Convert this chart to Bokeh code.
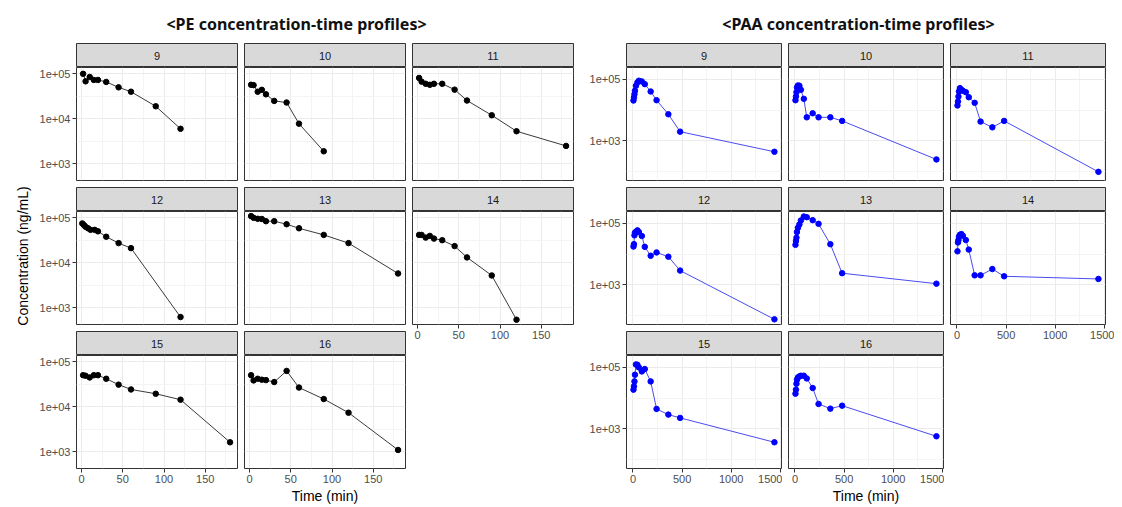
import math
from bokeh.plotting import figure
from bokeh.models import Range1d, FixedTicker, LinearAxis, LogAxis, Grid, Spacer, ColumnDataSource
from bokeh.layouts import row, column
from bokeh.embed import file_html
from bokeh.resources import INLINE
from bokeh.core.properties import value

# ---------------- data ----------------
panel_layout = [["9", "10", "11"], ["12", "13", "14"], ["15", "16", None]]

# PE (left grid) : time (min) and concentration (ng/mL)
pe_t_9 = [2, 5, 10, 15, 20, 30, 45, 60, 90, 120]
pe_c_9 = [100000, 68000, 85000, 73000, 73000, 66000, 50000, 40000, 19000, 6000]
pe_t_10 = [2, 5, 10, 15, 20, 30, 45, 60, 90]
pe_c_10 = [57000, 56000, 40000, 44000, 35000, 25000, 23000, 7800, 1900]
pe_t_11 = [2, 5, 10, 15, 20, 30, 45, 60, 90, 120, 180]
pe_c_11 = [81000, 67000, 60000, 57000, 60000, 60000, 44500, 25500, 12000, 5300, 2500]
pe_t_12 = [1, 3, 5, 8, 11, 16, 20, 30, 45, 60, 120]
pe_c_12 = [75000, 69000, 63000, 58500, 54000, 54000, 50000, 38000, 27400, 21200, 625]
pe_t_13 = [2, 5, 10, 15, 20, 30, 45, 60, 90, 120, 180]
pe_c_13 = [109000, 100000, 95000, 94000, 84000, 84000, 72000, 58500, 41700, 27400, 5800]
pe_t_14 = [2, 5, 10, 15, 20, 30, 45, 60, 90, 120]
pe_c_14 = [41700, 41700, 36300, 39600, 34500, 31800, 23500, 13200, 5240, 545]
pe_t_15 = [2, 5, 10, 15, 20, 30, 45, 60, 90, 120, 180]
pe_c_15 = [50400, 48900, 44900, 50400, 50400, 42000, 31100, 24300, 19500, 14400, 1630]
pe_t_16 = [2, 5, 10, 15, 20, 30, 45, 60, 90, 120, 180]
pe_c_16 = [50400, 38600, 42000, 40000, 39200, 35500, 62800, 26800, 14900, 7400, 1100]

# PAA (right grid)
paa_t = [5, 10, 15, 20, 30, 45, 60, 90, 120, 180, 240, 360, 480, 1440]
paa_c_9 = [20500, 25700, 33000, 42600, 62000, 79700, 90600, 86000, 70200, 40400, 21000, 7300, 1970, 435]
paa_c_10 = [21000, 27700, 38400, 54700, 63500, 62000, 45900, 23300, 5800, 7850, 5800, 5800, 4430, 244]
paa_c_11 = [14100, 19000, 27700, 40400, 51900, 45900, 42600, 38400, 26300, 17200, 4200, 2730, 4430, 96]
paa_c_12 = [17600, 21000, 41000, 49800, 53600, 59400, 52500, 39000, 17200, 8800, 11300, 8200, 2890, 74]
paa_c_13 = [20000, 26800, 34300, 52400, 72100, 92900, 125000, 168000, 160000, 128000, 97000, 21000, 2370, 1080]
paa_c_14 = [12300, 24000, 28700, 36700, 42600, 44900, 39500, 28700, 14000, 2020, 2020, 3240, 1880, 1540]
paa_c_15 = [18800, 24100, 35000, 57800, 125000, 122000, 100000, 74100, 88700, 35000, 4420, 2880, 2250, 360]
paa_c_16 = [13900, 18800, 29400, 39700, 47200, 50900, 53700, 53700, 43800, 21300, 6420, 4520, 5650, 565]

# axis ticks / labels
pe_x_ticks = [0, 50, 100, 150]
pe_x_minor = [25, 75, 125, 175]
pe_y_ticks = [1e3, 1e4, 1e5]
pe_y_minor = [10 ** 3.5, 10 ** 4.5]
pe_y_labels = {1000: "1e+03", 10000: "1e+04", 100000: "1e+05"}
paa_x_ticks = [0, 500, 1000, 1500]
paa_x_minor = [250, 750, 1250]
paa_y_ticks = [1e3, 1e5]
paa_y_minor = [1e2, 1e4]
paa_y_labels = {1000: "1e+03", 100000: "1e+05"}

titles = ["<PE concentration-time profiles>", "<PAA concentration-time profiles>"]
y_title = "Concentration (ng/mL)"
x_title = "Time (min)"

# ---------------- build ----------------
pe_data = {"9": (pe_t_9, pe_c_9), "10": (pe_t_10, pe_c_10), "11": (pe_t_11, pe_c_11),
           "12": (pe_t_12, pe_c_12), "13": (pe_t_13, pe_c_13), "14": (pe_t_14, pe_c_14),
           "15": (pe_t_15, pe_c_15), "16": (pe_t_16, pe_c_16)}
paa_data = {"9": (paa_t, paa_c_9), "10": (paa_t, paa_c_10), "11": (paa_t, paa_c_11),
            "12": (paa_t, paa_c_12), "13": (paa_t, paa_c_13), "14": (paa_t, paa_c_14),
            "15": (paa_t, paa_c_15), "16": (paa_t, paa_c_16)}

CFG = {
    "pe": dict(fw=161, xr=(-6, 189), yr=(10 ** 2.63, 10 ** 5.14), xt=pe_x_ticks, xm=pe_x_minor,
               yt=pe_y_ticks, ym=pe_y_minor, yl=pe_y_labels, line="#3a3a3a", pt="#000000",
               data=pe_data, L=[44, 1, 1], R=[1, 1, 1]),
    "paa": dict(fw=155, xr=(-66, 1512), yr=(10 ** 1.70, 10 ** 5.39), xt=paa_x_ticks, xm=paa_x_minor,
                yt=paa_y_ticks, ym=paa_y_minor, yl=paa_y_labels, line="#4b4bf0", pt="#0000ff",
                data=paa_data, L=[52, 1, 1], R=[1, 1, 9]),
}
FH = 113
TICK_FONT = "Liberation Sans"


def style_axis(ax):
    ax.axis_line_color = None
    ax.major_tick_line_color = "#333333"
    ax.major_tick_in = 0
    ax.major_tick_out = 4
    ax.minor_tick_line_color = None
    ax.major_label_text_font = TICK_FONT
    ax.major_label_text_font_size = "11px"
    ax.major_label_text_color = "#4d4d4d"
    ax.major_label_standoff = 2


def make_panel(side, subj, L, R, B, yaxis, xaxis, xlabel):
    c = CFG[side]
    t, conc = c["data"][subj]
    p = figure(width=L + c["fw"] + R, height=FH + B, x_range=Range1d(*c["xr"]),
               y_range=Range1d(*c["yr"]), y_axis_type="log", x_axis_location=None,
               y_axis_location=None, toolbar_location=None, output_backend="svg", min_border=0)
    p.min_border_left = L
    p.min_border_right = R
    p.min_border_top = 0
    p.min_border_bottom = B
    p.center = [r for r in p.center if not isinstance(r, Grid)]
    p.add_layout(Grid(dimension=0, ticker=FixedTicker(ticks=c["xt"], minor_ticks=c["xm"]),
                      grid_line_color="#ebebeb", minor_grid_line_color="#f4f4f4"))
    p.add_layout(Grid(dimension=1, ticker=FixedTicker(ticks=c["yt"], minor_ticks=c["ym"]),
                      grid_line_color="#ebebeb", minor_grid_line_color="#f4f4f4"))
    p.outline_line_color = "#333333"
    p.outline_line_width = 1
    src = ColumnDataSource(dict(t=t, c=conc))
    p.line("t", "c", source=src, line_color=c["line"], line_width=1)
    p.scatter("t", "c", source=src, size=5.5, fill_color=c["pt"], line_color=c["pt"])
    if yaxis:
        ax = LogAxis(ticker=FixedTicker(ticks=c["yt"]), major_label_overrides=c["yl"])
        style_axis(ax)
        p.add_layout(ax, "left")
    if xaxis:
        ax = LinearAxis(ticker=FixedTicker(ticks=c["xt"]))
        style_axis(ax)
        if xlabel:
            ax.axis_label = x_title
            ax.axis_label_text_font = TICK_FONT
            ax.axis_label_text_font_size = "14px"
            ax.axis_label_text_font_style = "normal"
            ax.axis_label_text_color = "#000000"
            ax.axis_label_standoff = 2
        p.add_layout(ax, "below")
    return p


def make_strip(side, label, L, R):
    c = CFG[side]
    s = figure(width=L + c["fw"] + R, height=25, x_range=Range1d(0, 1), y_range=Range1d(0, 1),
               x_axis_location=None, y_axis_location=None, toolbar_location=None,
               output_backend="svg", min_border=0)
    s.min_border_left = L
    s.min_border_right = R
    s.min_border_top = 1
    s.min_border_bottom = 0
    s.grid.visible = False
    s.background_fill_color = "#d9d9d9"
    s.outline_line_color = "#333333"
    s.text(x=[0.5], y=[0.5], text=[label], text_align="center", text_baseline="middle",
           text_font_size="11px", text_color="#1a1a1a", text_font=value(TICK_FONT))
    return s


def make_block(side):
    c = CFG[side]
    cols = []
    for k in range(3):
        L, R = c["L"][k], c["R"][k]
        items = []
        for r in range(3):
            subj = panel_layout[r][k]
            if subj is None:
                break
            bottom = (r == 2) or (panel_layout[r + 1][k] is None)
            B = (38 if k == 1 else 20) if bottom else 1
            items.append(make_strip(side, subj, L, R))
            items.append(make_panel(side, subj, L, R, B, yaxis=(k == 0), xaxis=bottom,
                                    xlabel=(bottom and k == 1)))
            if not bottom:
                items.append(Spacer(width=L + c["fw"] + R, height=5))
        cols.append(column(items, spacing=0))
    return cols


# y-axis title (left grid only)
ylab = figure(width=24, height=464, x_range=Range1d(0, 24), y_range=Range1d(0, 464),
              x_axis_location=None, y_axis_location=None, toolbar_location=None,
              output_backend="svg", min_border=0)
ylab.grid.visible = False
ylab.outline_line_color = None
ylab.text(x=[14], y=[250.5], text=[y_title], angle=math.pi / 2, text_align="center",
          text_baseline="middle", text_font_size="14px", text_color="#000000",
          text_font=value(TICK_FONT))

# titles
tfig = figure(width=1106, height=34, x_range=Range1d(0, 1106), y_range=Range1d(0, 34),
              x_axis_location=None, y_axis_location=None, toolbar_location=None,
              output_backend="svg", min_border=0)
tfig.grid.visible = False
tfig.outline_line_color = None
tfig.text(x=[288, 850], y=[18.5, 18.5], text=titles, text_align="center",
          text_baseline="middle", text_font_size="16px", text_font_style="bold",
          text_color="#111111", text_font=value("Noto Sans"))

lc = make_block("pe")
rc = make_block("paa")
left_block = row([ylab, lc[0], Spacer(width=5), lc[1], Spacer(width=5), lc[2]], spacing=0)
right_block = row([rc[0], Spacer(width=5), rc[1], Spacer(width=5), rc[2]], spacing=0)
inner = column([tfig, row([left_block, right_block], spacing=0)], spacing=0)
layout = column([Spacer(width=1114, height=8),
                 row([Spacer(width=8, height=10), inner], spacing=0)], spacing=0)

open("out.html", "w").write(file_html(layout, INLINE, "PE / PAA concentration-time profiles"))
